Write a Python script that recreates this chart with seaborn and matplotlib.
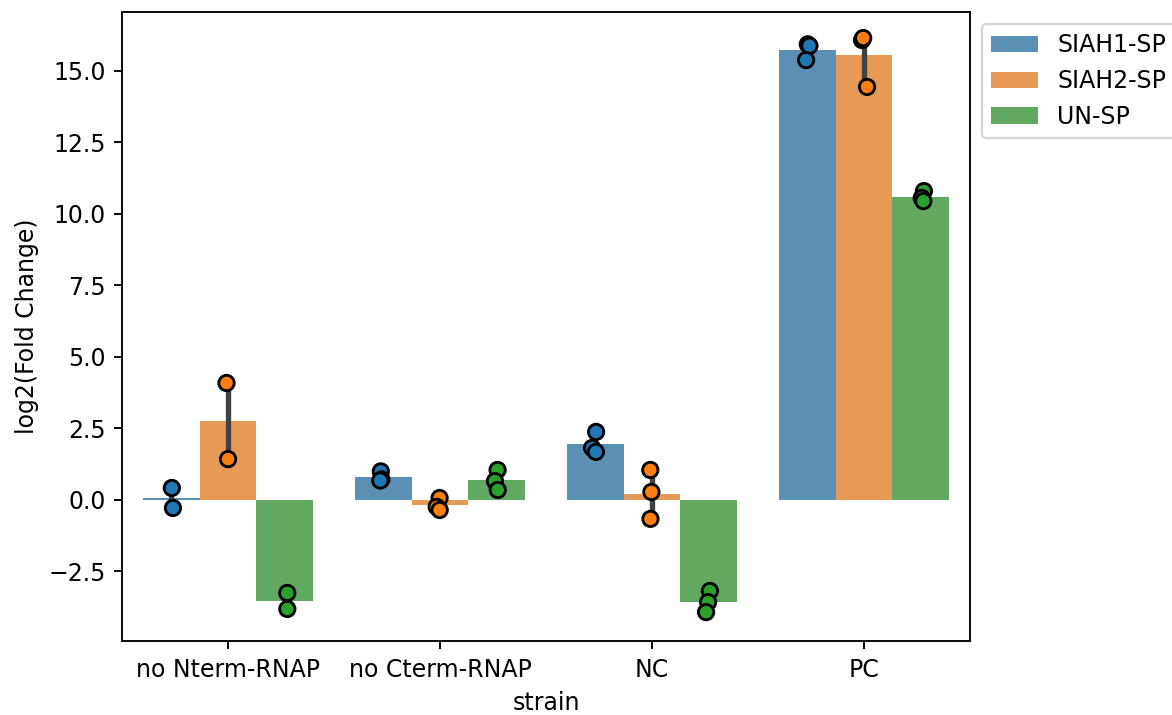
import numpy as np
import pandas as pd
import matplotlib
matplotlib.use('Agg')
import matplotlib.pyplot as plt
import seaborn as sns

# values (log2 fold change per replicate)
strains = ['no Nterm-RNAP', 'no Cterm-RNAP', 'NC', 'PC']
samples = ['SIAH1-SP', 'SIAH2-SP', 'UN-SP']

siah1 = {
    'no Nterm-RNAP': [0.42, -0.28],
    'no Cterm-RNAP': [1.0, 0.72, 0.68],
    'NC': [2.38, 1.82, 1.68],
    'PC': [15.93, 15.88, 15.38],
}
siah2 = {
    'no Nterm-RNAP': [4.09, 1.43],
    'no Cterm-RNAP': [0.07, -0.24, -0.35],
    'NC': [1.05, 0.28, -0.66],
    'PC': [16.08, 16.15, 14.44],
}
un = {
    'no Nterm-RNAP': [-3.25, -3.81],
    'no Cterm-RNAP': [1.05, 0.66, 0.35],
    'NC': [-3.18, -3.57, -3.92],
    'PC': [10.8, 10.56, 10.45],
}

rows = []
for name, d in zip(samples, [siah1, siah2, un]):
    for s in strains:
        for v in d[s]:
            rows.append({'strain': s, 'sample': name, 'log2(Fold Change)': v})
df = pd.DataFrame(rows)

np.random.seed(3)
fig = plt.figure(figsize=(1172 / 170, 715 / 170), dpi=170)
ax = fig.add_axes([122 / 1172, 1 - 641 / 715, 848 / 1172, 629 / 715])

sns.barplot(data=df, x='strain', y='log2(Fold Change)', hue='sample',
            order=strains, hue_order=samples, alpha=0.8, seed=1, ax=ax)
sns.stripplot(data=df, x='strain', y='log2(Fold Change)', hue='sample',
              order=strains, hue_order=samples, dodge=True, jitter=0.05,
              size=6.5, edgecolor='black', linewidth=1.2, legend=False, ax=ax)

ax.set_ylim(-4.93, 17.06)

handles, labels = ax.get_legend_handles_labels()
ax.legend(handles[:3], labels[:3], loc='upper left', bbox_to_anchor=(1, 1))

fig.savefig('out.png', dpi=170)
